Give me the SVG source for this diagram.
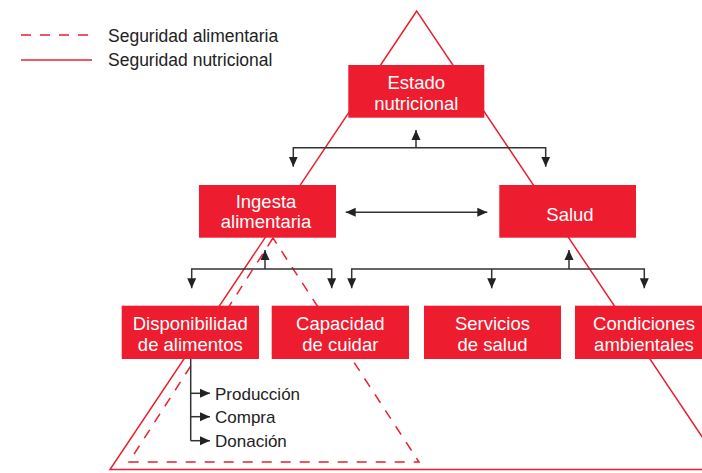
<svg xmlns="http://www.w3.org/2000/svg" width="702" height="473" viewBox="0 0 702 473">
<style>
.box{fill:#ed1c2e}
.bt{fill:#fff;font-family:"Liberation Sans",Arial,sans-serif;font-size:18.5px;text-anchor:middle}
.lt{fill:#222;font-family:"Liberation Sans",Arial,sans-serif;font-size:17.5px}
.st{fill:#222;font-family:"Liberation Sans",Arial,sans-serif;font-size:17px}
.red{fill:none;stroke:#e8202f;stroke-width:1.5}
.dash{fill:none;stroke:#e8202f;stroke-width:1.5;stroke-dasharray:10 9}
.con{fill:none;stroke:#333;stroke-width:1.5}
</style>
<defs>
<marker id="ah" markerUnits="userSpaceOnUse" markerWidth="12" markerHeight="10" refX="10" refY="5" orient="auto-start-reverse" viewBox="0 0 12 10">
<path d="M0,0.5 L10,5 L0,9.5 Z" fill="#222"/>
</marker>
</defs>
<rect width="702" height="473" fill="#fff"/>
<g id="legend">
<line x1="21" y1="35" x2="92" y2="35" class="dash"/>
<line x1="21" y1="60" x2="92" y2="60" class="red"/>
<text x="108" y="41.5" class="lt">Seguridad alimentaria</text>
<text x="108" y="65.5" class="lt">Seguridad nutricional</text>
</g>
<g id="triangles">
<polygon points="416.7,11 110,469.5 724,469.5" class="red"/>
<polygon points="273,238 129,462 419,462" class="dash"/>
</g>
<g id="connectors">
<path d="M416,147.7 V130" class="con" marker-end="url(#ah)"/>
<path d="M293.3,166.7 V147.7 H545.7 V166.7" class="con" marker-start="url(#ah)" marker-end="url(#ah)"/>
<path d="M345.7,212.3 H487.3" class="con" marker-start="url(#ah)" marker-end="url(#ah)"/>
<path d="M265,269 V250" class="con" marker-end="url(#ah)"/>
<path d="M191.7,288.3 V269 H331.7 V288.3" class="con" marker-start="url(#ah)" marker-end="url(#ah)"/>
<path d="M569,269 V250" class="con" marker-end="url(#ah)"/>
<path d="M351.7,288.3 V269 H644.3 V288.3" class="con" marker-start="url(#ah)" marker-end="url(#ah)"/>
<path d="M491.7,269 V288.3" class="con" marker-end="url(#ah)"/>
<path d="M190.7,359 V440.7" class="con"/>
<path d="M190.7,393.3 H210" class="con" marker-end="url(#ah)"/>
<path d="M190.7,416.7 H210" class="con" marker-end="url(#ah)"/>
<path d="M190.7,440.7 H210" class="con" marker-end="url(#ah)"/>
</g>
<g id="estado">
<rect x="348.3" y="65" width="136" height="52.7" class="box"/>
<text x="416.3" y="88.5" class="bt">Estado</text>
<text x="416.3" y="109.5" class="bt">nutricional</text>
</g>
<g id="ingesta">
<rect x="199" y="185" width="137" height="52.7" class="box"/>
<text x="266" y="207.5" class="bt">Ingesta</text>
<text x="266" y="228" class="bt">alimentaria</text>
</g>
<g id="salud">
<rect x="499.3" y="185" width="136.7" height="52.7" class="box"/>
<text x="570" y="220.5" class="bt">Salud</text>
</g>
<g id="disponibilidad">
<rect x="121.7" y="305.7" width="137.3" height="53.3" class="box"/>
<text x="190.3" y="330" class="bt">Disponibilidad</text>
<text x="190.3" y="351" class="bt">de alimentos</text>
</g>
<g id="capacidad">
<rect x="271.7" y="305.7" width="137.3" height="53.3" class="box"/>
<text x="340.3" y="330" class="bt">Capacidad</text>
<text x="340.3" y="351" class="bt">de cuidar</text>
</g>
<g id="servicios">
<rect x="424" y="305.7" width="137" height="53.3" class="box"/>
<text x="492.5" y="330" class="bt">Servicios</text>
<text x="492.5" y="351" class="bt">de salud</text>
</g>
<g id="condiciones">
<rect x="575" y="305.7" width="137" height="53.3" class="box"/>
<text x="644" y="330" class="bt">Condiciones</text>
<text x="644" y="351" class="bt">ambientales</text>
</g>
<g id="subitems">
<text x="215" y="400" class="st">Producción</text>
<text x="215" y="423.3" class="st">Compra</text>
<text x="215" y="447.3" class="st">Donación</text>
</g>
</svg>
